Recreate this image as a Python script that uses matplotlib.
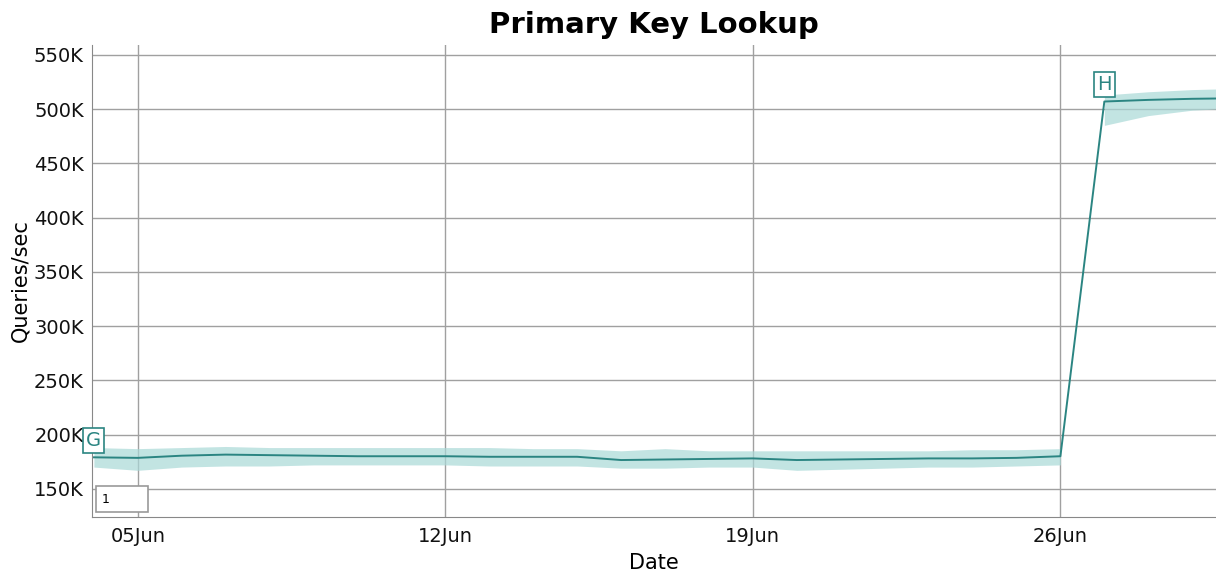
import matplotlib
matplotlib.use("Agg")
import matplotlib.pyplot as plt
import matplotlib.dates as mdates
import numpy as np
from matplotlib.patches import Rectangle
from matplotlib.ticker import FuncFormatter

# daily throughput (K queries/sec), 4 Jun .. 30 Jun
days = np.arange("2017-06-04", "2017-07-01", dtype="datetime64[D]")
qps = [179, 178.5, 180.5, 181.5, 181, 180.5, 180, 180, 180, 179.5, 179.5, 179.5,
       176.5, 177, 177.5, 178, 176.5, 177, 177.5, 178, 178, 178.5, 180,
       507, 508.5, 509.5, 510]
qps_lo = [170, 167, 170, 171, 171, 172, 172, 172, 172, 171, 171, 171,
          169, 169, 170, 170, 167, 168, 169, 170, 170, 171, 172,
          485, 494, 499, 501]
qps_hi = [188, 187, 188, 189, 188, 188, 188, 188, 188, 188, 187, 187,
          185, 187, 185, 185, 185, 185, 185, 185, 186, 186, 187,
          513, 516, 518, 519]
marks = {"G": 0, "H": 23}
split = 23  # first day after the upgrade

teal = "#2b8582"
x = days.astype("datetime64[ms]").astype(object)
y = np.array(qps) * 1000
lo = np.array(qps_lo) * 1000
hi = np.array(qps_hi) * 1000

fig = plt.figure(figsize=(12.16, 5.71), dpi=100)
ax = fig.add_axes([0.0757, 0.0946, 0.9243, 0.8264])

# spread band, drawn separately before and after the jump
for sl in (slice(0, split), slice(split, None)):
    ax.fill_between(x[sl], lo[sl], hi[sl], color="#a9d9d7", alpha=0.7, lw=0)
ax.plot(x, y, color=teal, lw=1.4)

for name, i in marks.items():
    ax.annotate(name, (x[i], y[i]), xytext=(0, 17), textcoords="offset pixels",
                ha="center", va="center", color=teal, fontsize=14,
                bbox=dict(boxstyle="square,pad=0.15", fc="white", ec=teal, lw=1.2),
                annotation_clip=False, zorder=5)

ax.add_patch(Rectangle((0.0036, 0.0106), 0.0462, 0.055, transform=ax.transAxes,
                       fc="white", ec="#999999", lw=1.2, zorder=4))
ax.text(0.009, 0.037, "1", transform=ax.transAxes, fontsize=9, va="center", zorder=5)

ax.set_xlim(np.datetime64("2017-06-03T23:00"), np.datetime64("2017-06-29T13:00"))
ax.set_ylim(124000, 559000)
ax.set_yticks(np.arange(150000, 550001, 50000))
ax.yaxis.set_major_formatter(FuncFormatter(lambda v, p: f"{int(v / 1000)}K"))
ax.xaxis.set_major_locator(mdates.DayLocator(bymonthday=[5, 12, 19, 26]))
ax.xaxis.set_major_formatter(mdates.DateFormatter("%d%b"))

ax.grid(True, color="#a0a0a0", lw=1)
ax.set_axisbelow(True)
for s in ["top", "right"]:
    ax.spines[s].set_visible(False)
for s in ["left", "bottom"]:
    ax.spines[s].set_color("#888888")
ax.tick_params(length=0, labelsize=14, colors="#111111", pad=6)
ax.tick_params(axis="x", pad=7)

ax.set_title("Primary Key Lookup", fontsize=21, fontweight="heavy", pad=9)
ax.set_xlabel("Date", fontsize=15, labelpad=5)
ax.set_ylabel("Queries/sec", fontsize=15)
ax.yaxis.set_label_coords(-0.055, 0.5)

fig.savefig("out.png", dpi=100)
